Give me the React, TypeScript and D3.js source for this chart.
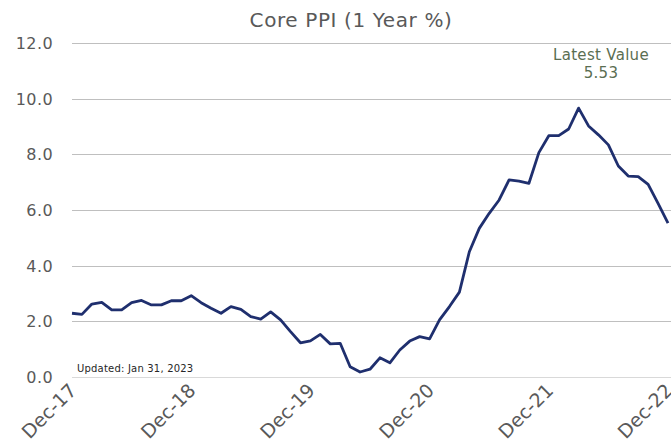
import React, { useEffect, useRef } from "react";
import * as d3 from "d3";

// monthly Core PPI, year-over-year %, Dec-17 .. Dec-22
const values = [
  2.29, 2.25, 2.62, 2.68, 2.41, 2.41, 2.67, 2.75, 2.59, 2.59, 2.74, 2.74,
  2.92, 2.67, 2.47, 2.29, 2.53, 2.43, 2.17, 2.08, 2.34, 2.05, 1.63, 1.23,
  1.3, 1.53, 1.19, 1.21, 0.37, 0.18, 0.28, 0.69, 0.51, 0.97, 1.29, 1.45,
  1.37, 2.05, 2.53, 3.05, 4.5, 5.34, 5.88, 6.36, 7.08, 7.04, 6.96, 8.06,
  8.67, 8.67, 8.91, 9.66, 9.02, 8.7, 8.34, 7.58, 7.22, 7.2, 6.92, 6.24,
  5.53,
];
const xTickLabels = ["Dec-17", "Dec-18", "Dec-19", "Dec-20", "Dec-21", "Dec-22"];
const yTicks = [0, 2, 4, 6, 8, 10, 12];
const latestValue = "5.53";
const updatedText = "Updated: Jan 31, 2023";
const title = "Core PPI (1 Year %)";

const App = () => {
  const ref = useRef<SVGSVGElement>(null);

  useEffect(() => {
    const width = 671;
    const height = 443;
    const margin = { top: 43, right: 2, bottom: 66, left: 72 };
    const font = "'DejaVu Sans', Verdana, sans-serif";

    const svg = d3.select(ref.current);
    svg.selectAll("*").remove();
    svg.attr("width", width).attr("height", height).style("display", "block");

    const x = d3
      .scaleLinear()
      .domain([0, values.length - 1])
      .range([margin.left, width - margin.right - 1]);
    const y = d3
      .scaleLinear()
      .domain([0, 12])
      .range([height - margin.bottom, margin.top]);

    // gridlines
    svg
      .append("g")
      .selectAll("line")
      .data(yTicks)
      .join("line")
      .attr("x1", margin.left)
      .attr("x2", width)
      .attr("y1", (d) => Math.round(y(d)) + 0.5)
      .attr("y2", (d) => Math.round(y(d)) + 0.5)
      .attr("stroke", (d) => (d === 0 ? "#d9d9d9" : "#bfbfbf"))
      .attr("stroke-width", 1);

    // y labels
    svg
      .append("g")
      .selectAll("text")
      .data(yTicks)
      .join("text")
      .attr("x", 53)
      .attr("y", (d) => y(d) + 6)
      .attr("text-anchor", "end")
      .attr("font-family", font)
      .attr("font-size", 16)
      .attr("letter-spacing", 0.4)
      .attr("fill", "#595959")
      .text((d) => d.toFixed(1));

    // x labels, rotated
    svg
      .append("g")
      .selectAll("text")
      .data(xTickLabels)
      .join("text")
      .attr("transform", (d, i) => `translate(${x(i * 12) + 1},${height - margin.bottom + 10}) rotate(-45)`)
      .attr("text-anchor", "end")
      .attr("dy", "0.35em")
      .attr("font-family", font)
      .attr("font-size", 19)
      .attr("fill", "#595959")
      .text((d) => d);

    // line
    const line = d3
      .line<number>()
      .x((d, i) => x(i))
      .y((d) => y(d));
    svg
      .append("path")
      .datum(values)
      .attr("d", line)
      .attr("fill", "none")
      .attr("stroke", "#1f2f6e")
      .attr("stroke-width", 2.8)
      .attr("stroke-linejoin", "round");

    // title
    svg
      .append("text")
      .attr("x", 351)
      .attr("y", 27)
      .attr("text-anchor", "middle")
      .attr("font-family", font)
      .attr("font-size", 20)
      .attr("letter-spacing", 0.6)
      .attr("fill", "#595959")
      .text(title);

    // latest value annotation
    const ann = svg
      .append("text")
      .attr("text-anchor", "middle")
      .attr("font-family", font)
      .attr("font-size", 15)
      .attr("letter-spacing", 0.3)
      .attr("fill", "#5a6e52");
    ann.append("tspan").attr("x", 601).attr("y", 60).text("Latest Value");
    ann.append("tspan").attr("x", 601).attr("y", 78).text(latestValue);

    svg
      .append("text")
      .attr("x", 77)
      .attr("y", 372)
      .attr("font-family", font)
      .attr("font-size", 10)
      .attr("letter-spacing", 0.2)
      .attr("fill", "#262626")
      .text(updatedText);
  }, []);

  return <svg ref={ref} style={{ position: "absolute", left: 0, top: 0 }}></svg>;
};

export default App;
